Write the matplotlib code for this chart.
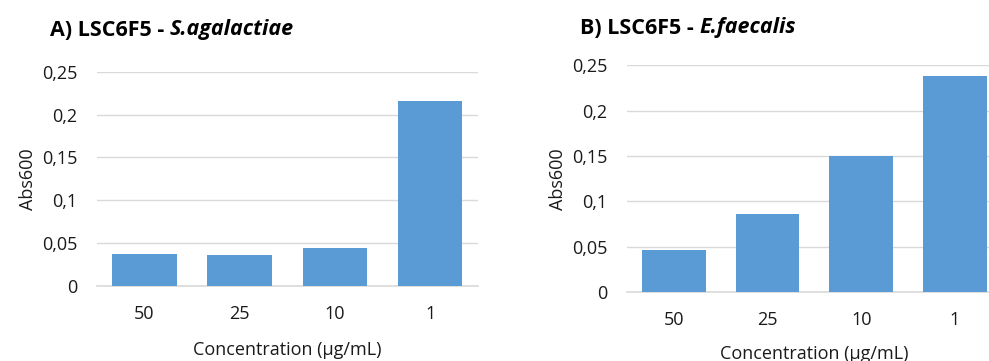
import matplotlib
matplotlib.use("Agg")
import matplotlib.pyplot as plt
from matplotlib.ticker import FuncFormatter

plt.rcParams['font.family'] = ['Open Sans', 'DejaVu Sans']

concentrations = ['50', '25', '10', '1']
abs_agalactiae = [0.0374, 0.0362, 0.0447, 0.2165]
abs_faecalis = [0.046, 0.0857, 0.150, 0.2378]
yticks = [0, 0.05, 0.1, 0.15, 0.2, 0.25]

BAR = '#5b9bd5'
GRID = '#d9d9d9'

fig = plt.figure(figsize=(9.89, 3.61), dpi=100)


def comma(v, pos):
    s = ('%g' % v).replace('.', ',')
    return s


def panel(rect, values, xlabelpad):
    ax = fig.add_axes(rect)
    ax.bar(range(len(values)), values, width=0.68, color=BAR, zorder=3)
    ax.set_xlim(-0.5, len(values) - 0.5)
    ax.set_ylim(0, 0.25)
    ax.set_yticks(yticks)
    ax.yaxis.set_major_formatter(FuncFormatter(comma))
    ax.set_xticks(range(len(values)))
    ax.set_xticklabels(concentrations)
    ax.grid(axis='y', color=GRID, linewidth=1, zorder=0)
    for side in ['top', 'right', 'left']:
        ax.spines[side].set_visible(False)
    ax.spines['bottom'].set_color(GRID)
    ax.spines['bottom'].set_linewidth(1.2)
    ax.tick_params(axis='both', length=0, labelsize=13, labelcolor='#1a1a1a')
    ax.tick_params(axis='y', pad=14)
    ax.tick_params(axis='x', pad=14)
    ax.set_ylabel('Abs600', fontsize=13, labelpad=4, color='#1a1a1a')
    ax.set_xlabel('Concentration (µg/mL)', fontsize=13, labelpad=xlabelpad, color='#1a1a1a')
    return ax


ax1 = panel([0.098, 0.208, 0.385, 0.593], abs_agalactiae, 13)
ax2 = panel([0.634, 0.191, 0.379, 0.628], abs_faecalis, 11)

# titles: bold prefix followed by italic species name
t1 = fig.text(50 / 989, 1 - 30 / 361, 'A) LSC6F5 - ', fontsize=15.5, fontweight='bold', va='center')
fig.canvas.draw()
ax1.annotate('S.agalactiae', xy=(1, 0.5), xycoords=t1, va='center', fontsize=15.5,
             fontweight='bold', style='italic', annotation_clip=False)
t2 = fig.text(580 / 989, 1 - 28 / 361, 'B) LSC6F5 - ', fontsize=15.5, fontweight='bold', va='center')
ax2.annotate('E.faecalis', xy=(1, 0.5), xycoords=t2, va='center', fontsize=15.5,
             fontweight='bold', style='italic', annotation_clip=False)

fig.savefig('out.png', dpi=100)
